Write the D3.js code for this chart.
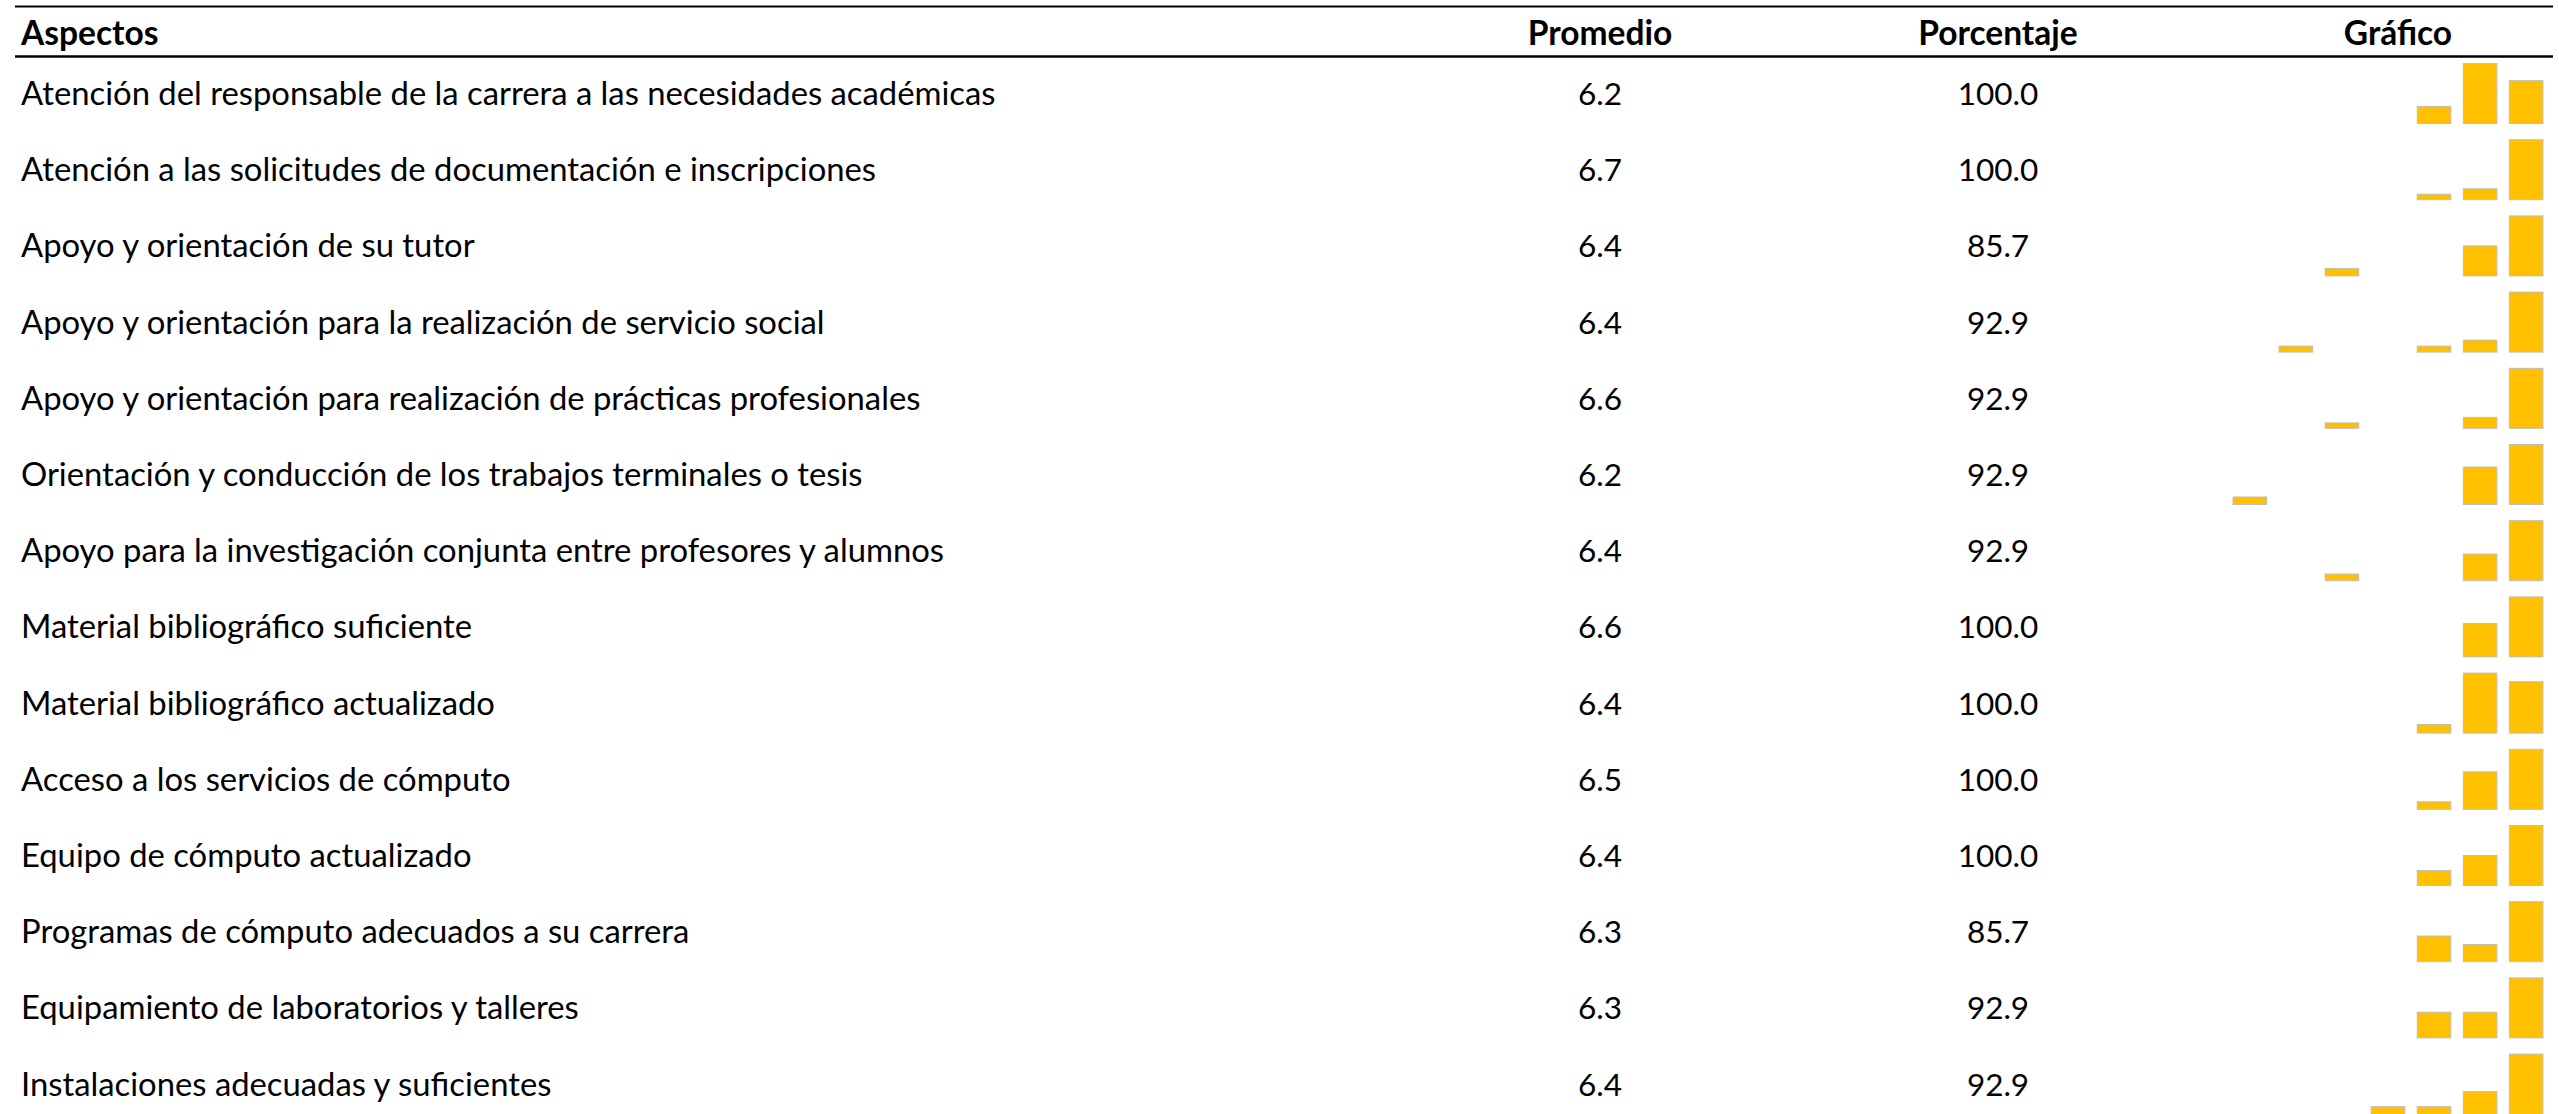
<!DOCTYPE html>
<html>
<head>
<meta charset="utf-8">
<script src="https://cdn.jsdelivr.net/npm/d3@7"></script>
<style>
  html, body { margin: 0; padding: 0; background: #fff; }
  svg { display: block; }
  text { font-family: "Lato", "Open Sans", sans-serif; fill: #000; }
</style>
</head>
<body>
<svg id="chart" width="2559" height="1114"></svg>
<script>
// ---- data ----
const headers = ["Aspectos", "Promedio", "Porcentaje", "Gráfico"];
const aspectos = [
  "Atención del responsable de la carrera a las necesidades académicas",
  "Atención a las solicitudes de documentación e inscripciones",
  "Apoyo y orientación de su tutor",
  "Apoyo y orientación para la realización de servicio social",
  "Apoyo y orientación para realización de prácticas profesionales",
  "Orientación y conducción de los trabajos terminales o tesis",
  "Apoyo para la investigación conjunta entre profesores y alumnos",
  "Material bibliográfico suficiente",
  "Material bibliográfico actualizado",
  "Acceso a los servicios de cómputo",
  "Equipo de cómputo actualizado",
  "Programas de cómputo adecuados a su carrera",
  "Equipamiento de laboratorios y talleres",
  "Instalaciones adecuadas y suficientes"
];
const promedios = [6.2, 6.7, 6.4, 6.4, 6.6, 6.2, 6.4, 6.6, 6.4, 6.5, 6.4, 6.3, 6.3, 6.4];
const porcentajes = [100.0, 100.0, 85.7, 92.9, 92.9, 92.9, 92.9, 100.0, 100.0, 100.0, 100.0, 85.7, 92.9, 92.9];
const escala = [1, 2, 3, 4, 5, 6, 7];
// respuestas por valor de la escala (1..7)
const distribucion = [
  [0, 0, 0, 0, 2, 7, 5],
  [0, 0, 0, 0, 1, 2, 11],
  [0, 0, 1, 0, 0, 4, 8],
  [0, 1, 0, 0, 1, 2, 10],
  [0, 0, 1, 0, 0, 2, 11],
  [1, 0, 0, 0, 0, 5, 8],
  [0, 0, 1, 0, 0, 4, 9],
  [0, 0, 0, 0, 0, 5, 9],
  [0, 0, 0, 0, 1, 7, 6],
  [0, 0, 0, 0, 1, 5, 8],
  [0, 0, 0, 0, 2, 4, 8],
  [0, 0, 0, 0, 3, 2, 7],
  [0, 0, 0, 0, 3, 3, 7],
  [0, 0, 0, 1, 1, 3, 8]
];

// ---- layout ----
const svg = d3.select("#chart");
const labelSize = 32.8, numSize = 31.5, headSize = 33.5;
const lineX0 = 15, lineX1 = 2553;
const topLineY = 6.5, headLineY = 56.5;
const headBaseline = 44.5;
const rowStep = 76.2;
const firstTextBaseline = 105;
const firstBarBase = 123.5;
const barMaxH = 60;

const colX = { aspecto: 21, promedio: 1600, porcentaje: 1998, grafico: 2398 };

const rowScale = d3.scaleLinear().domain([0, aspectos.length]).range([0, rowStep * aspectos.length]);
const xBand = d3.scaleBand().domain(escala).range([2226.8, 2549.2]).paddingInner(0.27).paddingOuter(0.135);

// lines
svg.append("line").attr("x1", lineX0).attr("x2", lineX1).attr("y1", topLineY).attr("y2", topLineY)
  .attr("stroke", "#000").attr("stroke-width", 2);
svg.append("line").attr("x1", lineX0).attr("x2", lineX1).attr("y1", headLineY).attr("y2", headLineY)
  .attr("stroke", "#000").attr("stroke-width", 2.5);

// headers
const hx = [colX.aspecto, colX.promedio, colX.porcentaje, colX.grafico];
const ha = ["start", "middle", "middle", "middle"];
svg.selectAll("text.head").data(headers).join("text")
  .attr("class", "head")
  .attr("x", (d, i) => hx[i]).attr("y", headBaseline)
  .attr("text-anchor", (d, i) => ha[i])
  .style("font-weight", "bold").style("font-size", headSize + "px")
  .text(d => d);

// rows
const rows = svg.selectAll("g.row").data(aspectos).join("g")
  .attr("class", "row")
  .attr("transform", (d, i) => `translate(0,${rowScale(i)})`);

rows.append("text")
  .attr("x", colX.aspecto).attr("y", firstTextBaseline)
  .style("font-size", labelSize + "px")
  .text(d => d);

rows.append("text")
  .attr("x", colX.promedio).attr("y", firstTextBaseline).attr("text-anchor", "middle")
  .style("font-size", numSize + "px")
  .text((d, i) => d3.format(".1f")(promedios[i]));

rows.append("text")
  .attr("x", colX.porcentaje).attr("y", firstTextBaseline).attr("text-anchor", "middle")
  .style("font-size", numSize + "px")
  .text((d, i) => d3.format(".1f")(porcentajes[i]));

rows.each(function(d, i) {
  const vals = distribucion[i];
  const y = d3.scaleLinear().domain([0, d3.max(vals)]).range([firstBarBase, firstBarBase - barMaxH]);
  d3.select(this).selectAll("rect").data(escala.map((s, k) => ({ s, v: vals[k] })).filter(e => e.v > 0))
    .join("rect")
    .attr("x", e => xBand(e.s))
    .attr("width", xBand.bandwidth())
    .attr("y", e => y(e.v))
    .attr("height", e => y(0) - y(e.v))
    .attr("fill", "#FFC000")
    .attr("stroke", "#BFBFBF")
    .attr("stroke-width", 1);
});
</script>
</body>
</html>
